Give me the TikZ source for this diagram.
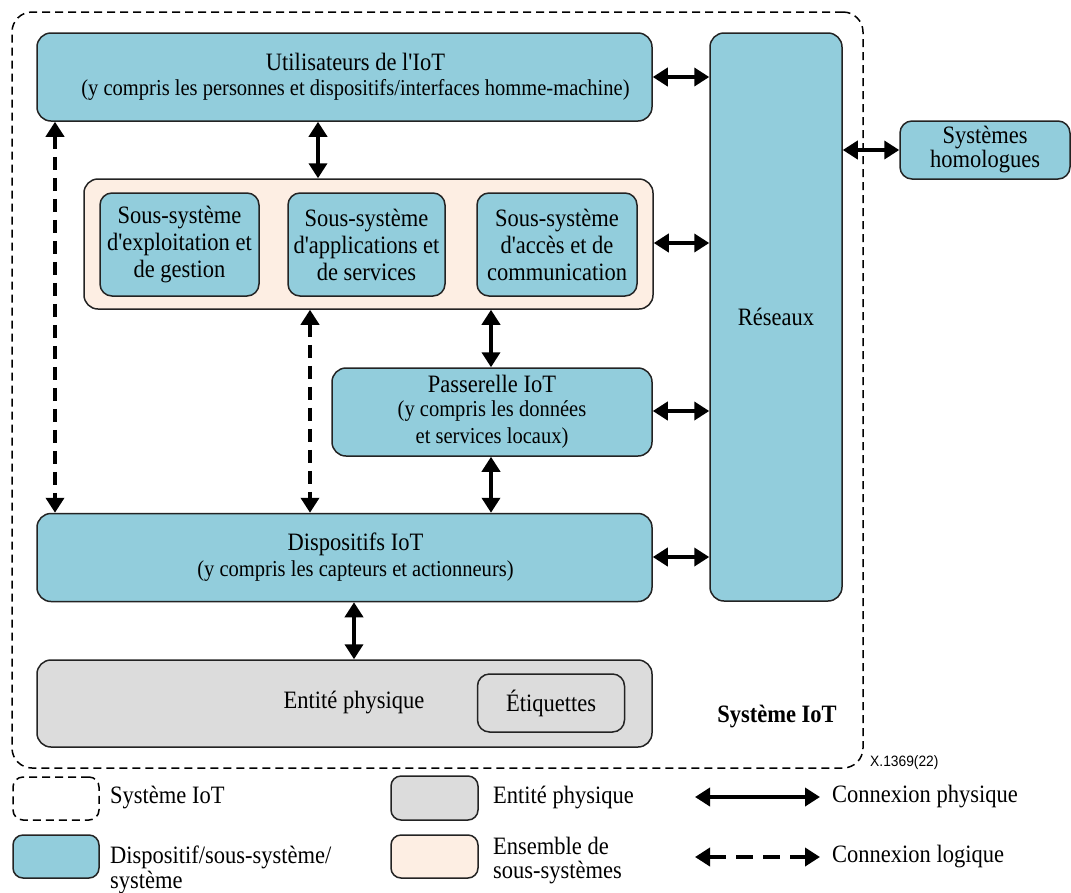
\documentclass[tikz,border=0pt]{standalone}
\usepackage{fontspec}
\setmainfont{Liberation Serif}[Ligatures=TeXOff, FakeStretch=0.9]
\newfontfamily\sansf{Liberation Sans}[FakeStretch=0.92]
\usetikzlibrary{arrows.meta,calc}
\definecolor{boxblue}{RGB}{146,205,220}
\definecolor{boxpeach}{RGB}{253,238,227}
\definecolor{boxgray}{RGB}{220,220,220}
\definecolor{bordc}{RGB}{35,35,35}
\newcommand\mainsz{\fontsize{25}{27}\selectfont}
\newcommand\subsz{\fontsize{22.8}{22}\selectfont}
\newcommand\rsh{\hspace*{22pt}}
\tikzset{
  bx/.style={draw=bordc, line width=1.5pt, rounded corners=14pt, inner sep=0pt, align=center, font=\mainsz},
  bluebox/.style={bx, fill=boxblue},
  peachbox/.style={bx, fill=boxpeach},
  graybox/.style={bx, fill=boxgray},
  sysbox/.style={draw=black, line width=1.5pt, dash pattern=on 8pt off 5pt, rounded corners=20pt, inner sep=0pt},
  tip/.tip={Triangle[width=18pt,length=15pt]},
  phys/.style={line width=4pt, tip-tip},
  logi/.style={line width=4pt, tip-tip, dash pattern=on 13pt off 8pt},
  lbl/.style={font=\mainsz, inner sep=0pt, align=left}
}
\begin{document}
\begin{tikzpicture}[x=1pt,y=-1pt]
\useasboundingbox (0,0) rectangle (1071,892);

% system boundary
\node[sysbox, minimum width=851pt, minimum height=756pt] (sys) at (437.5,390) {};
\node[font=\mainsz\bfseries] (systxt) at (777,717) {Système IoT};
\node[font=\sansf\fontsize{15}{16}\selectfont, anchor=west, inner sep=0pt] (ref) at (870,763) {X.1369(22)};

% main boxes
\node[bluebox, minimum width=615pt, minimum height=88pt] (util) at (344.5,77)
  {\rsh Utilisateurs de l'IoT\\[-2pt]{\subsz\rsh (y compris les personnes et dispositifs/interfaces homme-machine)}};
\node[bluebox, minimum width=132pt, minimum height=568pt] (res) at (776,317) {Réseaux};
\node[bluebox, minimum width=170pt, minimum height=58pt, rounded corners=12pt] (hom) at (985,150) {Systèmes\\[-3pt]homologues};

\node[peachbox, minimum width=569pt, minimum height=130pt] (subset) at (368.5,244) {};
\node[bluebox, minimum width=159pt, minimum height=103pt, rounded corners=12pt] (s1) at (179.5,244.5) {Sous-système\\d'exploitation et\\de gestion};
\node[bluebox, minimum width=157pt, minimum height=103pt, rounded corners=12pt] (s2) at (366.5,244.5) {Sous-système\\d'applications et\\de services};
\node[bluebox, minimum width=160pt, minimum height=103pt, rounded corners=12pt] (s3) at (557,244.5) {Sous-système\\d'accès et de\\communication};

\node[bluebox, minimum width=320pt, minimum height=88pt] (gw) at (492,412)
  {Passerelle IoT\\[-3pt]{\subsz (y compris les données}\\{\subsz et services locaux)}};
\node[bluebox, minimum width=615pt, minimum height=88pt] (dev) at (344.5,557.5)
  {\rsh Dispositifs IoT\\[-1pt]{\subsz\rsh (y compris les capteurs et actionneurs)}};

\node[graybox, minimum width=615pt, minimum height=87pt] (ent) at (344.5,703.5) {};
\node[font=\mainsz, inner sep=0pt] (enttxt) at (354,702) {Entité physique};
\node[graybox, minimum width=147pt, minimum height=58pt, rounded corners=12pt] (tag) at (551,703) {Étiquettes};

% x positions of vertical connectors
\coordinate (xL) at (55,0);
\coordinate (xA) at (318,0);
\coordinate (xM) at (310,0);
\coordinate (xR) at (491,0);
\coordinate (xE) at (354,0);

% connectors
\draw[phys] (util.east) -- (res.west |- util.east);
\draw[phys] (subset.east |- 0,243) -- (res.west |- 0,243);
\draw[phys] (gw.east |- 0,411) -- (res.west |- 0,411);
\draw[phys] (dev.east |- 0,557) -- (res.west |- 0,557);
\draw[phys] (res.east |- hom.west) -- (hom.west);
\draw[phys] (util.south -| xA) -- (subset.north -| xA);
\draw[phys] (subset.south -| xR) -- (gw.north -| xR);
\draw[phys] (gw.south -| xR) -- (dev.north -| xR);
\draw[phys] (dev.south -| xE) -- (ent.north -| xE);
\draw[logi] (util.south -| xL) -- (dev.north -| xL);
\draw[logi] (subset.south -| xM) -- (dev.north -| xM);

% legend
\node[sysbox, rounded corners=10pt, minimum width=86pt, minimum height=43pt] (lg1) at (56,798.5) {};
\node[lbl, anchor=west] (lg1t) at (110,797) {Système IoT};
\node[bluebox, rounded corners=10pt, minimum width=86pt, minimum height=43pt] (lg2) at (56,856.5) {};
\node[lbl, anchor=west, font=\fontsize{25}{25}\selectfont] (lg2t) at (110,869.5) {Dispositif/sous-système/\\système};
\node[graybox, rounded corners=10pt, minimum width=87pt, minimum height=44pt] (lg3) at (434.5,798) {};
\node[lbl, anchor=west] (lg3t) at (493,797) {Entité physique};
\node[peachbox, rounded corners=10pt, minimum width=87pt, minimum height=43pt] (lg4) at (434.5,856.5) {};
\node[lbl, anchor=west, font=\fontsize{25}{24}\selectfont] (lg4t) at (493,861) {Ensemble de\\sous-systèmes};
\coordinate (lp1) at (695,797);
\coordinate (lp2) at (820,797);
\coordinate (ll1) at (695,857);
\coordinate (ll2) at (820,857);
\draw[phys] (lp1) -- (lp2);
\draw[logi, dash pattern=on 17pt off 10pt] (ll1) -- (ll2);
\node[lbl, anchor=west] (lp) at (832,797) {Connexion physique};
\node[lbl, anchor=west] (ll) at (832,857) {Connexion logique};
\end{tikzpicture}
\end{document}
